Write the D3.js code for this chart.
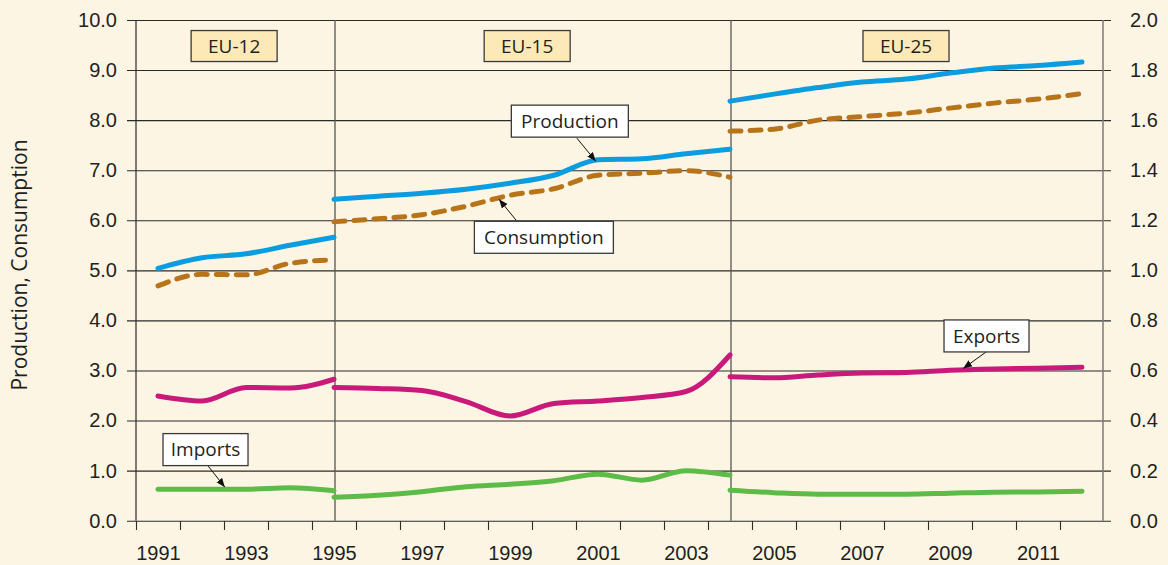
<!DOCTYPE html>
<html>
<head>
<meta charset="utf-8">
<script src="https://d3js.org/d3.v7.min.js"></script>
<style>
  body { margin: 0; background: #fdf5e3; }
  svg { display: block; font-family: "Open Sans", "DejaVu Sans", sans-serif; }
</style>
</head>
<body>
<script>
    // years per group (the two joins overlap: 1995 and 2004)
    var yearsEU12 = [1991, 1992, 1993, 1994, 1995];
    var yearsEU15 = [1995, 1996, 1997, 1998, 1999, 2000, 2001, 2002, 2003, 2004];
    var yearsEU25 = [2004, 2005, 2006, 2007, 2008, 2009, 2010, 2011, 2012];

    // left axis
    var productionEU12 = [5.04, 5.25, 5.33, 5.50, 5.66];
    var productionEU15 = [6.42, 6.48, 6.54, 6.62, 6.74, 6.90, 7.21, 7.23, 7.33, 7.42];
    var productionEU25 = [8.38, 8.52, 8.65, 8.76, 8.82, 8.94, 9.04, 9.09, 9.16];

    var consumptionEU12 = [4.69, 4.92, 4.91, 5.14, 5.21];
    var consumptionEU15 = [5.97, 6.03, 6.11, 6.28, 6.50, 6.63, 6.90, 6.94, 6.99, 6.86];
    var consumptionEU25 = [7.78, 7.82, 8.00, 8.07, 8.14, 8.24, 8.34, 8.42, 8.53];

    // right axis
    var exportsEU12 = [0.498, 0.478, 0.532, 0.530, 0.565];
    var exportsEU15 = [0.532, 0.528, 0.520, 0.476, 0.418, 0.468, 0.478, 0.492, 0.516, 0.662];
    var exportsEU25 = [0.575, 0.571, 0.582, 0.590, 0.592, 0.601, 0.606, 0.609, 0.613];

    var importsEU12 = [0.126, 0.126, 0.126, 0.132, 0.120];
    var importsEU15 = [0.094, 0.102, 0.116, 0.136, 0.146, 0.160, 0.186, 0.162, 0.200, 0.182];
    var importsEU25 = [0.122, 0.112, 0.106, 0.106, 0.106, 0.110, 0.114, 0.115, 0.118];

    var leftTicks = [0, 1, 2, 3, 4, 5, 6, 7, 8, 9, 10];
    var rightTicks = [0, 0.2, 0.4, 0.6, 0.8, 1.0, 1.2, 1.4, 1.6, 1.8, 2.0];
    var yearLabels = [1991, 1993, 1995, 1997, 1999, 2001, 2003, 2005, 2007, 2009, 2011];

    var groups = [
        { name: "EU-12", years: yearsEU12, at: [1992.73, 9.48] },
        { name: "EU-15", years: yearsEU15, at: [1999.39, 9.48] },
        { name: "EU-25", years: yearsEU25, at: [2008.0, 9.48] }
    ];
    var callouts = [
        { text: "Production", w: 117, at: [2000.36, 7.98], from: [2000.52, 7.64], to: [2000.95, 7.18] },
        { text: "Consumption", w: 139, at: [1999.77, 5.66], from: [1999.14, 6.00], to: [1998.75, 6.42] },
        { text: "Exports", w: 85, at: [2009.83, 3.69], from: [2009.82, 3.37], to: [2009.3, 3.04] },
        { text: "Imports", w: 85, at: [1992.08, 1.42], from: [1992.14, 1.09], to: [1992.52, 0.67] }
    ];

    var width = 1168;
    var height = 565;

    var x = d3.scaleLinear().domain([1990.5, 2012.5]).range([136, 1104]);
    var yL = d3.scaleLinear().domain([0, 10]).range([520.7, 20]);
    var yR = d3.scaleLinear().domain([0, 2]).range([520.7, 20]);

    var svg = d3.select("body").append("svg")
        .attr("width", width)
        .attr("height", height);

    svg.append("rect").attr("width", width).attr("height", height).attr("fill", "#fdf5e3");

    // grid + left labels
    var gl = svg.append("g")
        .attr("transform", "translate(127,0)")
        .call(d3.axisLeft(yL).tickValues(leftTicks).tickSizeInner(-(x.range()[1] + 7 - 127)).tickSizeOuter(0).tickPadding(10).tickFormat(d3.format(".1f")));
    gl.select(".domain").remove();
    gl.selectAll("line").attr("stroke", "#2b2b2b").attr("stroke-width", 1.1);
    gl.selectAll("text").attr("font-size", 20).attr("fill", "#231f20").attr("font-family", null);

    // right labels
    var gr = svg.append("g")
        .attr("transform", "translate(1103,0)")
        .call(d3.axisRight(yR).tickValues(rightTicks).tickSize(0).tickPadding(27).tickFormat(d3.format(".1f")));
    gr.select(".domain").remove();
    gr.selectAll("text").attr("font-size", 20).attr("fill", "#231f20").attr("font-family", null);

    // x ticks at the year boundaries
    var gx = svg.append("g")
        .attr("transform", "translate(0,521)")
        .call(d3.axisBottom(x).tickValues(d3.range(1990.5, 2012, 1)).tickSize(9).tickSizeOuter(0).tickFormat(""));
    gx.select(".domain").remove();
    gx.selectAll("line").attr("stroke", "#2b2b2b").attr("stroke-width", 1.1);

    var gxl = svg.append("g")
        .attr("transform", "translate(0,521)")
        .call(d3.axisBottom(x).tickValues(yearLabels).tickSize(0).tickPadding(25).tickFormat(d3.format("d")));
    gxl.select(".domain").remove();
    gxl.selectAll("text").attr("font-size", 20).attr("fill", "#231f20").attr("font-family", null);

    // axis lines and group dividers
    svg.append("line").attr("x1", 136).attr("x2", 136).attr("y1", yL(10)).attr("y2", yL(0))
        .attr("stroke", "#2b2b2b").attr("stroke-width", 1.2);
    svg.append("line").attr("x1", 1103).attr("x2", 1103).attr("y1", yL(10)).attr("y2", yL(0))
        .attr("stroke", "#7a7a7a").attr("stroke-width", 1.5);
    svg.selectAll(".divider")
        .data([1995, 2004])
        .enter().append("line")
        .attr("class", "divider")
        .attr("x1", function (d) { return x(d) + 1; })
        .attr("x2", function (d) { return x(d) + 1; })
        .attr("y1", yL(10)).attr("y2", yL(0))
        .attr("stroke", "#555").attr("stroke-width", 1.3);

    svg.append("text")
        .attr("transform", "translate(27,265) rotate(-90)")
        .attr("text-anchor", "middle")
        .attr("font-size", 21)
        .attr("fill", "#231f20")
        .text("Production, Consumption");

    // series
    function segs(years, vals) {
        return years.map(function (y, i) { return [y, vals[i]]; });
    }
    var series = [
        { scale: yL, color: "#0b9ddf", dash: null, parts: [segs(yearsEU12, productionEU12), segs(yearsEU15, productionEU15), segs(yearsEU25, productionEU25)] },
        { scale: yL, color: "#b8741a", dash: "11,9", parts: [segs(yearsEU12, consumptionEU12), segs(yearsEU15, consumptionEU15), segs(yearsEU25, consumptionEU25)] },
        { scale: yR, color: "#c91a7c", dash: null, parts: [segs(yearsEU12, exportsEU12), segs(yearsEU15, exportsEU15), segs(yearsEU25, exportsEU25)] },
        { scale: yR, color: "#5cbc47", dash: null, parts: [segs(yearsEU12, importsEU12), segs(yearsEU15, importsEU15), segs(yearsEU25, importsEU25)] }
    ];

    series.forEach(function (s) {
        var line = d3.line()
            .x(function (d) { return x(d[0]); })
            .y(function (d) { return s.scale(d[1]); })
            .curve(d3.curveMonotoneX);
        svg.selectAll(null)
            .data(s.parts)
            .enter().append("path")
            .attr("d", line)
            .attr("fill", "none")
            .attr("stroke", s.color)
            .attr("stroke-width", 5)
            .attr("stroke-linecap", "round")
            .attr("stroke-linejoin", "round")
            .attr("stroke-dasharray", s.dash);
    });

    // group boxes
    var gb = svg.selectAll(".grp").data(groups).enter().append("g")
        .attr("class", "grp")
        .attr("transform", function (d) { return "translate(" + x(d.at[0]) + "," + yL(d.at[1]) + ")"; });
    gb.append("rect")
        .attr("x", -43).attr("y", -15.5).attr("width", 86).attr("height", 31)
        .attr("fill", "#fde9b7").attr("stroke", "#3a3a3a").attr("stroke-width", 1.3);
    gb.append("text")
        .attr("text-anchor", "middle").attr("dy", "0.36em")
        .attr("font-size", 19).attr("fill", "#231f20")
        .text(function (d) { return d.name; });

    // callouts with arrows
    svg.append("defs").append("marker")
        .attr("id", "arr")
        .attr("viewBox", "0 0 10 10")
        .attr("refX", 10).attr("refY", 5)
        .attr("markerWidth", 9).attr("markerHeight", 9)
        .attr("markerUnits", "userSpaceOnUse")
        .attr("orient", "auto")
        .append("path").attr("d", "M0,1 L10,5 L0,9 Z").attr("fill", "#111");

    svg.selectAll(".arrow").data(callouts).enter().append("line")
        .attr("class", "arrow")
        .attr("x1", function (d) { return x(d.from[0]); })
        .attr("y1", function (d) { return yL(d.from[1]); })
        .attr("x2", function (d) { return x(d.to[0]); })
        .attr("y2", function (d) { return yL(d.to[1]); })
        .attr("stroke", "#111").attr("stroke-width", 1)
        .attr("marker-end", "url(#arr)");

    var cb = svg.selectAll(".callout").data(callouts).enter().append("g")
        .attr("class", "callout")
        .attr("transform", function (d) { return "translate(" + x(d.at[0]) + "," + yL(d.at[1]) + ")"; });
    cb.append("rect")
        .attr("x", function (d) { return -d.w / 2; }).attr("y", -16)
        .attr("width", function (d) { return d.w; }).attr("height", 32)
        .attr("fill", "#fff").attr("stroke", "#3a3a3a").attr("stroke-width", 1.3);
    cb.append("text")
        .attr("text-anchor", "middle").attr("dy", "0.36em")
        .attr("font-size", 19).attr("fill", "#231f20")
        .text(function (d) { return d.text; });
</script>
</body>
</html>
